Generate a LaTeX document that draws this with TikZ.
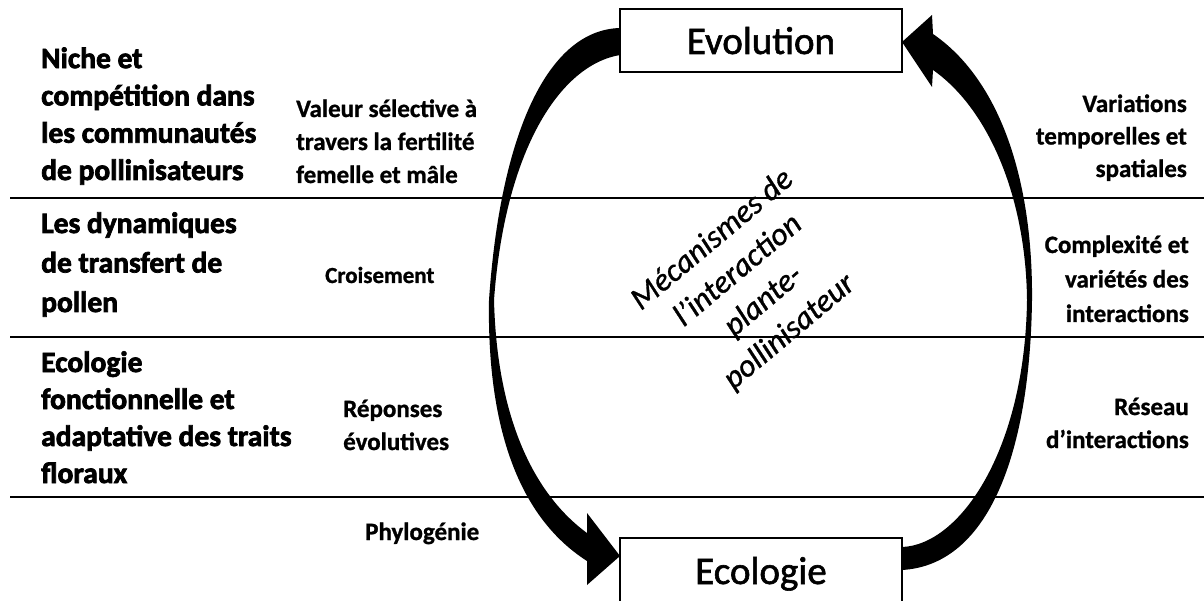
\documentclass[tikz,border=0pt]{standalone}
\usepackage{fontspec}
\setmainfont{Carlito}
\newfontfamily\heavy[FakeBold=2.5]{Carlito Bold}
\newfontfamily\medium[FakeBold=1]{Carlito Bold}
\newfontfamily\boxfont[FakeBold=1.5]{Carlito}
\newfontfamily\slanted[FakeBold=1]{Carlito Italic}
\begin{document}
\begin{tikzpicture}[x=1pt,y=-1pt,
  box/.style={draw,line width=2.5pt,minimum width=282pt,inner sep=0pt,
    text height=27pt,text depth=0pt,font=\fontsize{39}{39}\selectfont\boxfont},
  sep/.style={line width=2.5pt},
  ltitle/.style={anchor=base west,align=left,inner sep=0pt},
  mtext/.style={anchor=base west,align=left,inner sep=0pt},
  rtext/.style={anchor=base east,align=right,inner sep=0pt}]
\useasboundingbox (0,0) rectangle (1204,601);
% separator lines
\draw[sep] (10,198) -- (1204,198);
\draw[sep] (10,337) -- (1204,337);
\draw[sep] (10,497) -- (1204,497);
% boxes
\node[box,minimum height=63pt] (evo) at (761,40.5) {Evolution};
\node[box,minimum height=65pt] (eco) at (761,570.5) {Ecologie};
% left arrow (Evolution -> Ecologie)
\fill (620,28) .. controls (545,30) and (500,140) .. (489,300)
  .. controls (487,420) and (515,515) .. (587,561)
  -- (587,585) -- (620,556) -- (587,513) -- (587,533)
  .. controls (535,495) and (497,420) .. (494,300)
  .. controls (505,150) and (560,65) .. (620,55) -- cycle;
% right arrow (Ecologie -> Evolution)
\fill (902,547) .. controls (960,545) and (1025,450) .. (1027,300)
  .. controls (1026,200) and (990,110) .. (933,70)
  -- (932,87) -- (902,42) -- (932,15) -- (933,34)
  .. controls (1000,80) and (1033,180) .. (1032,300)
  .. controls (1030,450) and (990,565) .. (902,570) -- cycle;
% left titles (anchor = baseline of last line)
\node[ltitle,font=\fontsize{29.5}{37.3}\selectfont\heavy] (l1) at (41,180)
  {Niche et\\compétition dans\\les communautés\\de pollinisateurs};
\node[ltitle,font=\fontsize{29.5}{39.5}\selectfont\heavy] (l2) at (41,312)
  {Les dynamiques\\de transfert de\\pollen};
\node[ltitle,font=\fontsize{29.5}{37}\selectfont\heavy] (l3) at (41,483)
  {Ecologie\\fonctionnelle et\\adaptative des traits\\floraux};
% middle texts
\node[mtext,font=\fontsize{25}{33}\selectfont\medium] (m1) at (296,183)
  {Valeur sélective à\\travers la fertilité\\femelle et mâle};
\node[mtext,font=\fontsize{23}{30}\selectfont\medium] (m2) at (325,283) {Croisement};
\node[mtext,font=\fontsize{25}{33}\selectfont\medium] (m3) at (343,450)
  {Réponses\\évolutives};
\node[mtext,font=\fontsize{25}{33}\selectfont\medium] (m4) at (365,540) {Phylogénie};
% right texts
\node[rtext,font=\fontsize{25}{32.5}\selectfont\medium] (r1) at (1187,177)
  {Variations\\temporelles et\\spatiales};
\node[rtext,font=\fontsize{25}{34.5}\selectfont\medium] (r2) at (1189,322)
  {Complexité et\\variétés des\\interactions};
\node[rtext,font=\fontsize{25}{33}\selectfont\medium] (r3) at (1189,448)
  {Réseau\\d’interactions};
% centre rotated text
\node[rotate=40,align=center,inner sep=0pt,font=\fontsize{32}{40}\selectfont\slanted] (mec) at (751,286)
  {Mécanismes de\\l’interaction\\plante-\\pollinisateur};
\end{tikzpicture}
\end{document}
